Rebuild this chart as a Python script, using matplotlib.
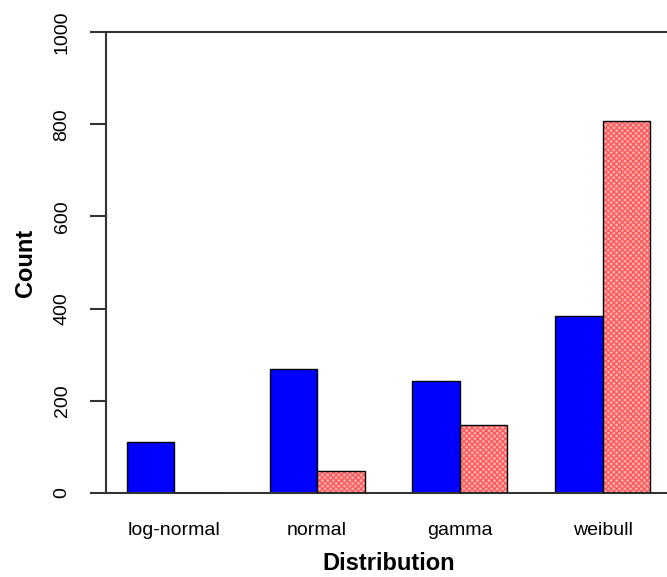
import numpy as np
import matplotlib
matplotlib.use("Agg")
from matplotlib import pyplot as plt

# counts
categories = ["log-normal", "normal", "gamma", "weibull"]
blue_counts = [110, 268, 244, 385]
red_counts = [0, 48, 148, 806]

plt.rcParams['font.family'] = ['Liberation Sans', 'DejaVu Sans']

fig = plt.figure(figsize=(6.67, 5.77), dpi=100)
ax = fig.add_axes([106 / 667, 1 - 493 / 577, 565 / 667, 461 / 577])

# R barplot style layout: bars of width 1, one unit of space between groups
centers = np.arange(len(categories)) * 3 + 2
ax.bar(centers - 0.5, blue_counts, width=1, color="#0000ff",
       edgecolor="black", linewidth=1, zorder=2)
# hatched salmon fill first, black outline on top
ax.bar(centers + 0.5, red_counts, width=1, color="#ffb0b0",
       edgecolor="#ff5a5a", hatch="xxxxxx", linewidth=0, zorder=2)
ax.bar(centers + 0.5, red_counts, width=1, fill=False,
       edgecolor="black", linewidth=1, zorder=3)

ax.set_xlim(0.56, 12.44)
ax.set_ylim(0, 1000)
ax.set_yticks(np.arange(0, 1001, 200))
ax.set_xticks(centers)
ax.set_xticklabels(categories, fontsize=14)
ax.tick_params(axis="y", length=11.5, width=1.5, pad=14, labelsize=14,
               labelrotation=90, color="#333333")
ax.tick_params(axis="x", length=0, pad=21)
for lbl in ax.get_yticklabels():
    lbl.set_va("center")

for side in ax.spines.values():
    side.set_linewidth(1.5)
    side.set_color("#333333")

ax.set_xlabel("Distribution", fontsize=17, fontweight="bold")
ax.xaxis.set_label_coords(0.5, -(552 - 493) / 461)
ax.set_ylabel("Count", fontsize=17, fontweight="bold")
ax.yaxis.set_label_coords(-(106 - 37) / 565, 0.5)

fig.savefig("out.png", dpi=100)
